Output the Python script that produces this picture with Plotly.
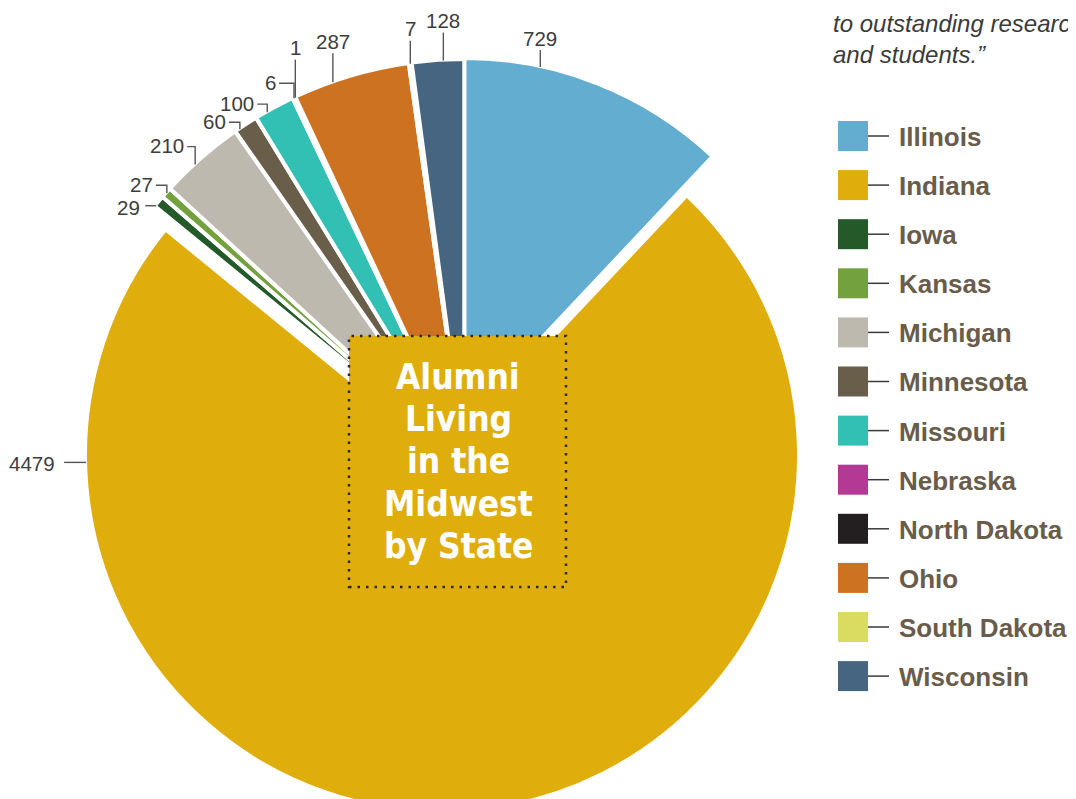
import math
import plotly.graph_objects as go

# ---------------- data ----------------
states = ["Illinois", "Indiana", "Iowa", "Kansas", "Michigan", "Minnesota",
          "Missouri", "Nebraska", "North Dakota", "Ohio", "South Dakota", "Wisconsin"]
alumni = [729, 4479, 29, 27, 210, 60, 100, 6, 1, 287, 7, 128]
colors = ["#62add0", "#dfae0d", "#24592a", "#72a13d", "#bdb9af", "#695e4a",
          "#32c0b4", "#b43995", "#231f20", "#cc7221", "#d9dc60", "#466580"]

title_lines = ["Alumni", "Living", "in the", "Midwest", "by State"]
quote_lines = ["to outstanding research", "and students.\u201d"]

# ---------------- layout / styling ----------------
W, H = 1076, 860
OFF = 8  # page body margin compensation
FONT = "Liberation Sans, Arial, Helvetica, sans-serif"
TITLE_FONT = "Liberation Sans Narrow, DejaVu Sans Condensed, Liberation Sans, Arial, sans-serif"
TEXT_COL = "#3d3d3d"
LEGEND_TXT = "#695c4a"
LEADER_COL = "#555555"

# exploded-pie geometry (pixel centre x, centre y, radius) per slice group
GROUP_GEOM = {"IL": (464.5, 420.0, 362.0),
              "IN": (442.0, 455.0, 357.0),
              "R": (464.5, 459.0, 400.0)}
slice_group = ["IL", "IN", "R", "R", "R", "R", "R", "R", "R", "R", "R", "R"]

# value-label leader styling
label_frac = [0.28, 0.848, 0.1, 0.5, 0.4, 0.2, 0.3, 0.5, 0.5, 0.34, 0.5, 0.6]
label_style = ["up", "left", "left", "elbow", "elbow", "elbow", "elbow", "elbow",
               "up", "up", "up", "up"]
label_len1 = [17, 22, 11, 8, 18, 7, 8, 15, 38, 29, 23, 28]
label_len2 = [0, 0, 0, 11, 8, 11, 10, 15, 0, 0, 0, 0]
label_gap = [0, 7, 3, 0, 0, 0, 0, 0, 0, 0, 0, 0]


def px(x):
    return (x - OFF) / W


def py(y):
    return 1 - (y - OFF) / H


fig = go.Figure()

for g in ["IN", "R", "IL"]:
    cx, cy, r = GROUP_GEOM[g]
    fill = [c if slice_group[i] == g else "rgba(0,0,0,0)" for i, c in enumerate(colors)]
    edge = ["#ffffff" if slice_group[i] == g else "rgba(0,0,0,0)" for i in range(len(states))]
    fig.add_trace(go.Pie(
        labels=states, values=alumni, sort=False, direction="clockwise", rotation=0,
        marker=dict(colors=fill, line=dict(color=edge, width=4)),
        textinfo="none", hoverinfo="label+value", showlegend=False,
        domain=dict(x=[px(cx - r), px(cx + r)], y=[py(cy + r), py(cy - r)]),
    ))

shapes = []
annotations = []
LABEL_FONT = dict(family=FONT, size=20.5, color=TEXT_COL)

# ---------------- value labels with leaders ----------------
total = float(sum(alumni))
start = 0.0
for i, v in enumerate(alumni):
    span = v / total * 360.0
    theta = math.radians(start + label_frac[i] * span)
    start += span
    cx, cy, r = GROUP_GEOM[slice_group[i]]
    ax = cx + (r - 1) * math.sin(theta)
    ay = cy - (r - 1) * math.cos(theta)
    st = label_style[i]
    L1, L2 = label_len1[i], label_len2[i]
    if st == "up":
        top = ay - L1
        shapes.append(dict(type="line", xref="paper", yref="paper",
                           x0=px(ax), y0=py(ay), x1=px(ax), y1=py(top),
                           line=dict(color=LEADER_COL, width=1.4)))
        annotations.append(dict(x=px(ax), y=py(top - 12), xref="paper", yref="paper",
                                text=str(v), showarrow=False, xanchor="center", yanchor="middle",
                                font=LABEL_FONT))
    elif st == "elbow":
        ey = ay - L1
        ex = ax - L2
        shapes.append(dict(type="path", xref="paper", yref="paper",
                           path="M %f,%f L %f,%f L %f,%f" % (px(ax), py(ay), px(ax), py(ey), px(ex), py(ey)),
                           line=dict(color=LEADER_COL, width=1.4)))
        annotations.append(dict(x=px(ex - 1), y=py(ey - 1), xref="paper", yref="paper",
                                text=str(v), showarrow=False, xanchor="right", yanchor="middle",
                                font=LABEL_FONT))
    else:  # left
        ex = ax - L1
        shapes.append(dict(type="line", xref="paper", yref="paper",
                           x0=px(ax), y0=py(ay), x1=px(ex), y1=py(ay),
                           line=dict(color=LEADER_COL, width=1.4)))
        annotations.append(dict(x=px(ex - label_gap[i]), y=py(ay + 1.5), xref="paper", yref="paper",
                                text=str(v), showarrow=False, xanchor="right", yanchor="middle",
                                font=LABEL_FONT))

# ---------------- centre title box ----------------
BOX = (349, 336, 566, 587)
shapes.append(dict(type="rect", xref="paper", yref="paper",
                   x0=px(BOX[0]), y0=py(BOX[3]), x1=px(BOX[2]), y1=py(BOX[1]),
                   fillcolor=colors[states.index("Indiana")],
                   line=dict(color="#2a2a2a", width=2.5, dash="2.5px,6px"), layer="above"))
for k, t in enumerate(title_lines):
    annotations.append(dict(x=px(458), y=py(377 + 42.2 * k), xref="paper", yref="paper",
                            text="<b>%s</b>" % t, showarrow=False, xanchor="center", yanchor="middle",
                            font=dict(family=TITLE_FONT, size=35, color="#ffffff")))

# ---------------- custom legend ----------------
LEG_X, LEG_Y0, LEG_DY, SW = 838, 136, 49.1, 30
for i, name in enumerate(states):
    yc = LEG_Y0 + LEG_DY * i
    shapes.append(dict(type="rect", xref="paper", yref="paper",
                       x0=px(LEG_X), x1=px(LEG_X + SW), y0=py(yc + SW / 2), y1=py(yc - SW / 2),
                       fillcolor=colors[i], line=dict(width=0)))
    shapes.append(dict(type="line", xref="paper", yref="paper",
                       x0=px(LEG_X + SW), x1=px(LEG_X + SW + 21), y0=py(yc), y1=py(yc),
                       line=dict(color="#3a3a3a", width=1.5)))
    annotations.append(dict(x=px(LEG_X + SW + 29), y=py(yc + 1), xref="paper", yref="paper",
                            text="<b>%s</b>" % name, showarrow=False, xanchor="left", yanchor="middle",
                            font=dict(family=FONT, size=26, color=LEGEND_TXT)))

# ---------------- quote fragment ----------------
for k, t in enumerate(quote_lines):
    annotations.append(dict(x=px(831), y=py(23 + 31 * k), xref="paper", yref="paper",
                            text=t, showarrow=False, xanchor="left", yanchor="middle",
                            font=dict(family=FONT, size=24, color="#3a3a3a", style="italic")))

fig.update_layout(
    width=W, height=H,
    margin=dict(l=0, r=0, t=0, b=0),
    paper_bgcolor="#ffffff", plot_bgcolor="#ffffff",
    showlegend=False,
    shapes=shapes, annotations=annotations,
)

fig.write_html("out.html")
